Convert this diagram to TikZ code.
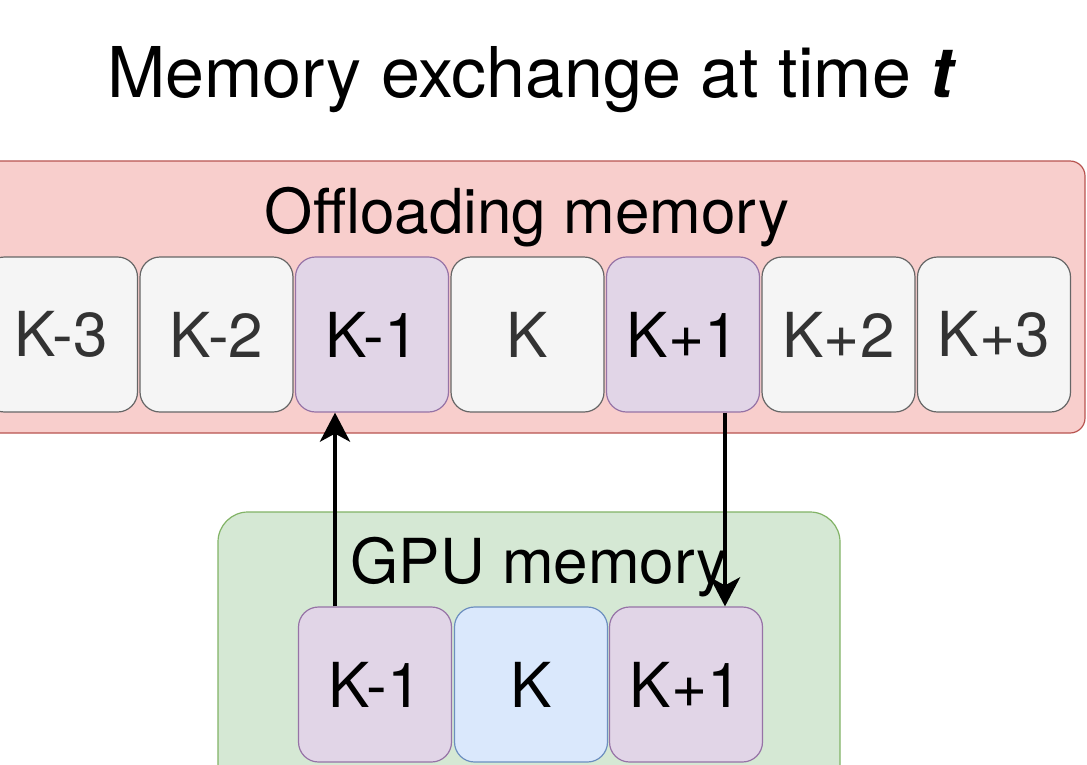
\documentclass[tikz,border=0pt]{standalone}
\usepackage{fontspec}
\setmainfont{TeX Gyre Heros}
\usetikzlibrary{arrows.meta}

\definecolor{redfill}{HTML}{F8CECC}
\definecolor{redline}{HTML}{B85450}
\definecolor{greenfill}{HTML}{D5E8D4}
\definecolor{greenline}{HTML}{82B366}
\definecolor{grayfill}{HTML}{F5F5F5}
\definecolor{grayline}{HTML}{666666}
\definecolor{purplefill}{HTML}{E1D5E7}
\definecolor{purpleline}{HTML}{9673A6}
\definecolor{bluefill}{HTML}{DAE8FC}
\definecolor{blueline}{HTML}{6C8EBF}
\definecolor{graytext}{HTML}{333333}

\tikzset{
  container/.style={draw, line width=1.2pt, inner sep=0pt},
  cell/.style={draw, rounded corners=20pt, minimum width=153pt, minimum height=155pt,
    line width=1.2pt, inner sep=0pt, font=\fontsize{62}{70}\selectfont},
  plaincell/.style={cell, fill=grayfill, draw=grayline, text=graytext},
  swapcell/.style={cell, fill=purplefill, draw=purpleline, text=black},
  activecell/.style={cell, fill=bluefill, draw=blueline, text=black},
  heading/.style={anchor=base, inner sep=0pt, font=\fontsize{62}{70}\selectfont},
  transfer/.style={line width=4.8pt, -{Stealth[length=29pt,width=30pt,inset=8pt]}}
}

\begin{document}
\begin{tikzpicture}[x=1pt,y=-1pt]
\useasboundingbox (0,0) rectangle (1087,764);
\fill[white] (0,0) rectangle (1087,764);

% title
\node[heading, font=\fontsize{70}{80}\selectfont] (title) at (532,97)
  {Memory exchange at time \textbf{\textit{t}}};

% offloading memory container
\node[container, fill=redfill, draw=redline, rounded corners=15pt,
      minimum width=1105pt, minimum height=272pt] (off) at (532.5,297) {};
\node[heading] (offlabel) at (527,233) {Offloading memory};

\node[plaincell]  (om3) at (61,334.5)    {K-3};
\node[plaincell]  (om2) at (216.5,334.5) {K-2};
\node[swapcell]   (om1) at (372,334.5)   {K-1};
\node[plaincell]  (o0)  at (527.5,334.5) {K};
\node[swapcell]   (op1) at (683,334.5)   {K+1};
\node[plaincell]  (op2) at (838.5,334.5) {K+2};
\node[plaincell]  (op3) at (994,334.5)   {K+3};

% GPU memory container
\node[container, fill=greenfill, draw=greenline, rounded corners=30pt,
      minimum width=622pt, minimum height=288pt] (gpu) at (529,656) {};
\node[heading] (gpulabel) at (539,583) {GPU memory};

\node[swapcell]   (gm1) at (375,684.5) {K-1};
\node[activecell] (g0)  at (531,684.5) {K};
\node[swapcell]   (gp1) at (686,684.5) {K+1};

% transfers between GPU and offloading memory
\draw[transfer] ([xshift=-40pt]gm1.north) -- ([xshift=-40pt]gm1.north |- om1.south);
\draw[transfer] ([xshift=39pt]gp1.north |- op1.south) -- ([xshift=39pt]gp1.north);
\end{tikzpicture}
\end{document}
